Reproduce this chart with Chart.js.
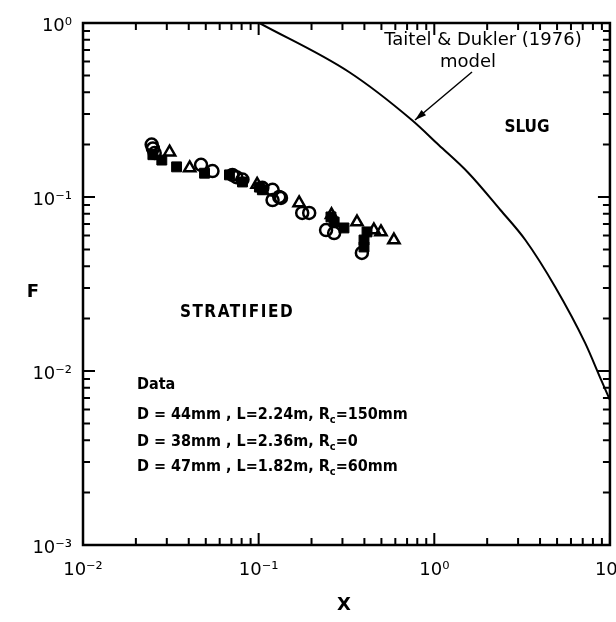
<!DOCTYPE html>
<html>
<head>
<meta charset="utf-8">
<script src="https://cdn.jsdelivr.net/npm/chart.js@4.4.1/dist/chart.umd.min.js"></script>
<style>
    html, body { margin: 0; padding: 0; background: #fff; overflow: hidden; }
    #wrap { width: 640px; height: 622px; }
</style>
</head>
<body>
<div id="wrap"><canvas id="chart" width="640" height="622"></canvas></div>
<script>
const xTicks = [0.01, 0.1, 1, 10];
const xTickLabels = ['10⁻²', '10⁻¹', '10⁰', '10¹'];
const yTicks = [0.001, 0.01, 0.1, 1];
const yTickLabels = ['10⁻³', '10⁻²', '10⁻¹', '10⁰'];

// open circles
const circleX = [0.0246, 0.0250, 0.0256, 0.047, 0.0546, 0.0709, 0.0747, 0.0809, 0.105, 0.120, 0.131, 0.120, 0.134, 0.177, 0.194, 0.242, 0.269, 0.387];
const circleF = [0.200, 0.190, 0.179, 0.153, 0.141, 0.134, 0.130, 0.126, 0.113, 0.110, 0.100, 0.096, 0.0987, 0.081, 0.081, 0.0646, 0.062, 0.0477];

// filled squares
const squareX = [0.025, 0.0281, 0.0341, 0.0492, 0.0682, 0.0809, 0.101, 0.105, 0.258, 0.269, 0.306, 0.414, 0.398, 0.398];
const squareF = [0.175, 0.163, 0.149, 0.137, 0.134, 0.122, 0.114, 0.110, 0.0768, 0.0718, 0.0664, 0.063, 0.0566, 0.0516];

// open triangles
const triangleX = [0.0311, 0.0405, 0.098, 0.170, 0.26, 0.363, 0.453, 0.497, 0.589];
const triangleF = [0.181, 0.147, 0.118, 0.0924, 0.079, 0.0718, 0.0646, 0.063, 0.0566];

// Taitel & Dukler (1976) stratified / slug boundary
const modelX = [0.101, 0.327, 0.745, 1.06, 1.57, 2.38, 3.30, 4.88, 7.22, 8.91, 10];
const modelF = [1.0, 0.523, 0.277, 0.199, 0.137, 0.0842, 0.0566, 0.0304, 0.0145, 0.00888, 0.0068];

const FONT = "'DejaVu Sans', sans-serif";
const COND = "'DejaVu Sans Condensed', 'DejaVu Sans', sans-serif";

function points(xs, ys) {
    return xs.map((x, i) => ({ x, y: ys[i] }));
}

function labelFor(values, labels) {
    return (v) => {
        const i = values.findIndex(t => Math.abs(Math.log10(t) - Math.log10(v)) < 1e-6);
        return i < 0 ? '' : labels[i];
    };
}

// text with a subscript part, e.g. R_c
function drawRuns(ctx, runs, x, y, size) {
    let cx = x;
    runs.forEach(([text, sub]) => {
        ctx.font = `bold ${sub ? Math.round(size * 0.7) : size}px ${COND}`;
        ctx.fillText(text, cx, sub ? y + size * 0.3 : y);
        cx += ctx.measureText(text).width;
    });
}

const framePlugin = {
    id: 'frame',
    afterDatasetsDraw(chart) {
        const { ctx, chartArea: a, scales: { x, y } } = chart;
        ctx.save();
        ctx.strokeStyle = '#000';
        ctx.fillStyle = '#000';
        ctx.lineWidth = 2.5;
        ctx.strokeRect(a.left, a.top, a.right - a.left, a.bottom - a.top);

        // inward ticks on all four sides
        ctx.lineWidth = 2;
        ctx.beginPath();
        for (let k = -2; k <= 0; k++) {
            for (let m = 1; m <= 10; m++) {
                const px = x.getPixelForValue(m * Math.pow(10, k));
                const len = (m === 1 || m === 10) ? 12 : 7;
                ctx.moveTo(px, a.bottom); ctx.lineTo(px, a.bottom - len);
                ctx.moveTo(px, a.top); ctx.lineTo(px, a.top + len);
            }
        }
        for (let k = -3; k <= -1; k++) {
            for (let m = 1; m <= 10; m++) {
                const py = y.getPixelForValue(m * Math.pow(10, k));
                const len = (m === 1 || m === 10) ? 12 : 7;
                ctx.moveTo(a.left, py); ctx.lineTo(a.left + len, py);
                ctx.moveTo(a.right, py); ctx.lineTo(a.right - len, py);
            }
        }
        ctx.stroke();

        // arrow pointing at the model curve
        const ax0 = 472, ay0 = 72, ax1 = 415, ay1 = 120;
        ctx.lineWidth = 1.5;
        ctx.beginPath();
        ctx.moveTo(ax0, ay0); ctx.lineTo(ax1, ay1);
        ctx.stroke();
        const ang = Math.atan2(ay1 - ay0, ax1 - ax0);
        ctx.beginPath();
        ctx.moveTo(ax1, ay1);
        ctx.lineTo(ax1 - 12 * Math.cos(ang - 0.3), ay1 - 12 * Math.sin(ang - 0.3));
        ctx.lineTo(ax1 - 12 * Math.cos(ang + 0.3), ay1 - 12 * Math.sin(ang + 0.3));
        ctx.closePath();
        ctx.fill();

        ctx.textBaseline = 'middle';
        ctx.textAlign = 'center';
        ctx.font = `18px ${FONT}`;
        ctx.fillText('Taitel & Dukler (1976)', 483, 40);
        ctx.fillText('model', 468, 62);
        ctx.font = `bold 17px ${COND}`;
        ctx.fillText('SLUG', 527, 128);
        ctx.letterSpacing = '1.5px';
        ctx.fillText('STRATIFIED', 237, 313);
        ctx.letterSpacing = '0px';

        ctx.font = `bold 18px ${FONT}`;
        ctx.fillText('F', 33, 292);
        ctx.fillText('X', 344, 605);

        ctx.textAlign = 'left';
        ctx.font = `bold 16px ${COND}`;
        ctx.fillText('Data', 137, 385);
        drawRuns(ctx, [['D = 44mm , L=2.24m, R', false], ['c', true], ['=150mm', false]], 137, 415, 16);
        drawRuns(ctx, [['D = 38mm , L=2.36m, R', false], ['c', true], ['=0', false]], 137, 442, 16);
        drawRuns(ctx, [['D = 47mm , L=1.82m, R', false], ['c', true], ['=60mm', false]], 137, 467, 16);
        ctx.restore();
    }
};

const axisCommon = {
    type: 'logarithmic',
    grid: { display: false, drawTicks: false },
    border: { display: false }
};

new Chart(document.getElementById('chart'), {
    type: 'scatter',
    data: {
        datasets: [
            {
                data: points(modelX, modelF),
                showLine: true,
                borderColor: '#000',
                borderWidth: 2,
                pointRadius: 0,
                cubicInterpolationMode: 'monotone'
            },
            {
                data: points(squareX, squareF),
                pointStyle: 'rect',
                pointRadius: 7,
                backgroundColor: '#000',
                borderColor: '#000',
                borderWidth: 1
            },
            {
                data: points(circleX, circleF),
                pointStyle: 'circle',
                pointRadius: 6,
                backgroundColor: 'rgba(0,0,0,0)',
                borderColor: '#000',
                borderWidth: 2.5
            },
            {
                data: points(triangleX, triangleF),
                pointStyle: 'triangle',
                pointRadius: 6.5,
                backgroundColor: 'rgba(0,0,0,0)',
                borderColor: '#000',
                borderWidth: 2.5
            }
        ]
    },
    options: {
        responsive: false,
        animation: false,
        layout: { padding: { top: 23, right: 28, left: 0, bottom: 0 } },
        plugins: { legend: { display: false }, tooltip: { enabled: false } },
        scales: {
            x: {
                ...axisCommon,
                min: 0.01,
                max: 10,
                afterBuildTicks: (s) => { s.ticks = xTicks.map(value => ({ value })); },
                afterFit: (s) => { s.height = 77; },
                ticks: {
                    callback: labelFor(xTicks, xTickLabels),
                    color: '#000',
                    font: { family: FONT, size: 18 },
                    padding: 15,
                    maxRotation: 0,
                    autoSkip: false
                }
            },
            y: {
                ...axisCommon,
                min: 0.001,
                max: 1,
                afterBuildTicks: (s) => { s.ticks = yTicks.map(value => ({ value })); },
                afterFit: (s) => { s.width = 83; },
                ticks: {
                    callback: labelFor(yTicks, yTickLabels),
                    color: '#000',
                    font: { family: FONT, size: 18 },
                    padding: 11,
                    labelOffset: 3,
                    autoSkip: false
                }
            }
        }
    },
    plugins: [framePlugin]
});
</script>
</body>
</html>
